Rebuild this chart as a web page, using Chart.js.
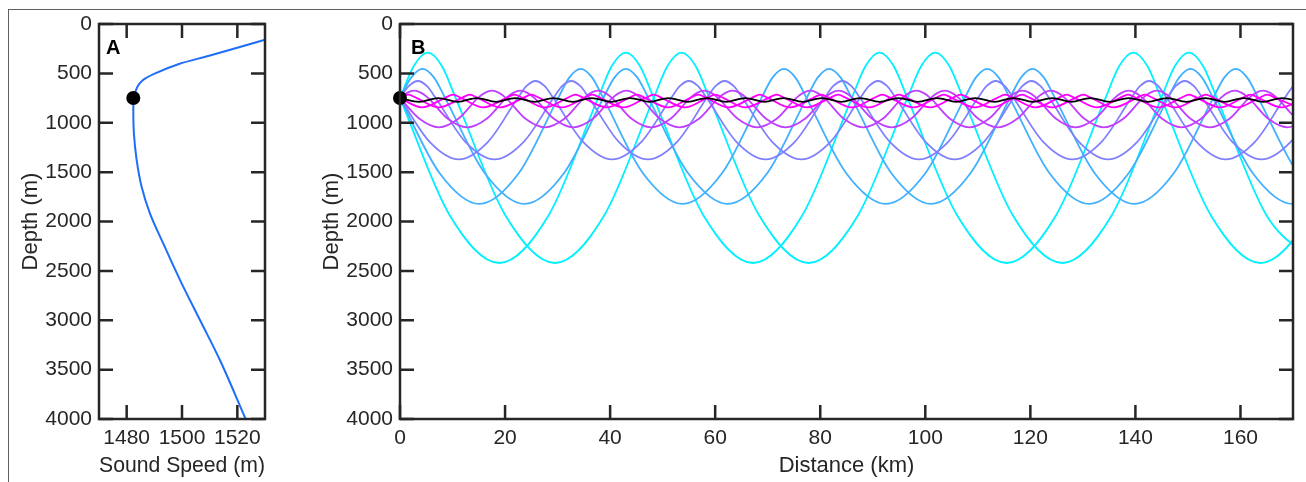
<!DOCTYPE html>
<html>
<head>
<meta charset="utf-8">
<script src="https://cdn.jsdelivr.net/npm/chart.js@4.4.1/dist/chart.umd.min.js"></script>
<style>
  html, body { margin: 0; padding: 0; background: #fff; }
  #wrap { position: relative; width: 1306px; height: 482px; overflow: hidden; }
  #frame { position: absolute; left: 8px; top: 9px; width: 1298px; height: 473px;
           border-top: 1px solid #606060; border-left: 1px solid #606060; }
  canvas { position: absolute; top: 0; }
  #panelA { left: 0; }
  #panelB { left: 300px; }
</style>
</head>
<body>
<div id="wrap">
  <div id="frame"></div>
  <canvas id="panelA" width="300" height="482"></canvas>
  <canvas id="panelB" width="1006" height="482"></canvas>
</div>
<script>
// tick labels
const depthTicks = [0, 500, 1000, 1500, 2000, 2500, 3000, 3500, 4000];
const speedTicks = [1480, 1500, 1520];
const distanceTicks = [0, 20, 40, 60, 80, 100, 120, 140, 160];

// panel A: sound speed vs depth (m)
const speedProfile = [
  [1530.0, 160], [1520.6, 236], [1509.8, 321], [1498.9, 405], [1489.9, 506],
  [1485.6, 574], [1483.8, 641], [1482.6, 750], [1482.4, 870], [1482.6, 1100],
  [1483.6, 1377], [1485.4, 1648], [1488.4, 1917], [1493.2, 2221], [1499.3, 2593],
  [1506.5, 2998], [1513.7, 3403], [1523.0, 4000]
];
const sourceA = [[1482.4, 750]];
const sourceB = [[0, 750]];

// panel B: ray paths, [distance km, depth m]
const rayCyanUp = [[0,750],[2.65,423],[5.3,290],[7.95,423],[10.6,750],[20.05,1936],[29.5,2420],[38.9,1936],[48.3,750],[50.95,423],[53.6,290],[56.25,423],[58.9,750],[68.35,1936],[77.8,2420],[87.2,1936],[96.6,750],[99.25,423],[101.9,290],[104.55,423],[107.2,750],[116.65,1936],[126.1,2420],[135.5,1936],[144.9,750],[147.55,423],[150.2,290],[152.85,423],[155.5,750],[164.95,1936],[174.4,2420]];
const rayCyanDown = [[0,750],[9.45,1936],[18.9,2420],[28.3,1936],[37.7,750],[40.35,423],[43.0,290],[45.65,423],[48.3,750],[57.75,1936],[67.2,2420],[76.6,1936],[86.0,750],[88.65,423],[91.3,290],[93.95,423],[96.6,750],[106.05,1936],[115.5,2420],[124.9,1936],[134.3,750],[136.95,423],[139.6,290],[142.25,423],[144.9,750],[154.35,1936],[163.8,2420],[173.2,1936],[182.6,750]];
const raySkyUp = [[0,750],[2.15,541],[4.3,455],[6.45,541],[8.6,750],[16.15,1511],[23.7,1822],[31.2,1511],[38.7,750],[40.85,541],[43.0,455],[45.15,541],[47.3,750],[54.85,1511],[62.4,1822],[69.9,1511],[77.4,750],[79.55,541],[81.7,455],[83.85,541],[86.0,750],[93.55,1511],[101.1,1822],[108.6,1511],[116.1,750],[118.25,541],[120.4,455],[122.55,541],[124.7,750],[132.25,1511],[139.8,1822],[147.3,1511],[154.8,750],[156.95,541],[159.1,455],[161.25,541],[163.4,750],[170.95,1511],[178.5,1822]];
const raySkyDown = [[0,750],[7.55,1511],[15.1,1822],[22.6,1511],[30.1,750],[32.25,541],[34.4,455],[36.55,541],[38.7,750],[46.25,1511],[53.8,1822],[61.3,1511],[68.8,750],[70.95,541],[73.1,455],[75.25,541],[77.4,750],[84.95,1511],[92.5,1822],[100.0,1511],[107.5,750],[109.65,541],[111.8,455],[113.95,541],[116.1,750],[123.65,1511],[131.2,1822],[138.7,1511],[146.2,750],[148.35,541],[150.5,455],[152.65,541],[154.8,750],[162.35,1511],[169.9,1822],[177.4,1511],[184.9,750]];
const rayBlueUp = [[0,750],[1.7,627],[3.4,577],[5.1,627],[6.8,750],[12.4,1190],[18.0,1370],[23.6,1190],[29.2,750],[30.9,627],[32.6,577],[34.3,627],[36.0,750],[41.6,1190],[47.2,1370],[52.8,1190],[58.4,750],[60.1,627],[61.8,577],[63.5,627],[65.2,750],[70.8,1190],[76.4,1370],[82.0,1190],[87.6,750],[89.3,627],[91.0,577],[92.7,627],[94.4,750],[100.0,1190],[105.6,1370],[111.2,1190],[116.8,750],[118.5,627],[120.2,577],[121.9,627],[123.6,750],[129.2,1190],[134.8,1370],[140.4,1190],[146.0,750],[147.7,627],[149.4,577],[151.1,627],[152.8,750],[158.4,1190],[164.0,1370],[169.6,1190],[175.2,750]];
const rayBlueDown = [[0,750],[5.6,1190],[11.2,1370],[16.8,1190],[22.4,750],[24.1,627],[25.8,577],[27.5,627],[29.2,750],[34.8,1190],[40.4,1370],[46.0,1190],[51.6,750],[53.3,627],[55.0,577],[56.7,627],[58.4,750],[64.0,1190],[69.6,1370],[75.2,1190],[80.8,750],[82.5,627],[84.2,577],[85.9,627],[87.6,750],[93.2,1190],[98.8,1370],[104.4,1190],[110.0,750],[111.7,627],[113.4,577],[115.1,627],[116.8,750],[122.4,1190],[128.0,1370],[133.6,1190],[139.2,750],[140.9,627],[142.6,577],[144.3,627],[146.0,750],[151.6,1190],[157.2,1370],[162.8,1190],[168.4,750],[170.1,627],[171.8,577]];
const rayPurpleUp = [[0,750],[1.35,697],[2.7,675],[4.05,697],[5.4,750],[9.1,960],[12.8,1046],[16.5,960],[20.2,750],[21.55,697],[22.9,675],[24.25,697],[25.6,750],[29.3,960],[33.0,1046],[36.7,960],[40.4,750],[41.75,697],[43.1,675],[44.45,697],[45.8,750],[49.5,960],[53.2,1046],[56.9,960],[60.6,750],[61.95,697],[63.3,675],[64.65,697],[66.0,750],[69.7,960],[73.4,1046],[77.1,960],[80.8,750],[82.15,697],[83.5,675],[84.85,697],[86.2,750],[89.9,960],[93.6,1046],[97.3,960],[101.0,750],[102.35,697],[103.7,675],[105.05,697],[106.4,750],[110.1,960],[113.8,1046],[117.5,960],[121.2,750],[122.55,697],[123.9,675],[125.25,697],[126.6,750],[130.3,960],[134.0,1046],[137.7,960],[141.4,750],[142.75,697],[144.1,675],[145.45,697],[146.8,750],[150.5,960],[154.2,1046],[157.9,960],[161.6,750],[162.95,697],[164.3,675],[165.65,697],[167.0,750],[170.7,960],[174.4,1046]];
const rayPurpleDown = [[0,750],[3.7,960],[7.4,1046],[11.1,960],[14.8,750],[16.15,697],[17.5,675],[18.85,697],[20.2,750],[23.9,960],[27.6,1046],[31.3,960],[35.0,750],[36.35,697],[37.7,675],[39.05,697],[40.4,750],[44.1,960],[47.8,1046],[51.5,960],[55.2,750],[56.55,697],[57.9,675],[59.25,697],[60.6,750],[64.3,960],[68.0,1046],[71.7,960],[75.4,750],[76.75,697],[78.1,675],[79.45,697],[80.8,750],[84.5,960],[88.2,1046],[91.9,960],[95.6,750],[96.95,697],[98.3,675],[99.65,697],[101.0,750],[104.7,960],[108.4,1046],[112.1,960],[115.8,750],[117.15,697],[118.5,675],[119.85,697],[121.2,750],[124.9,960],[128.6,1046],[132.3,960],[136.0,750],[137.35,697],[138.7,675],[140.05,697],[141.4,750],[145.1,960],[148.8,1046],[152.5,960],[156.2,750],[157.55,697],[158.9,675],[160.25,697],[161.6,750],[165.3,960],[169.0,1046],[172.7,960]];
const rayMagentaUp = [[0,750],[1.6,715],[3.2,750],[7.4,845],[11.7,750],[13.3,715],[14.9,750],[19.1,845],[23.4,750],[25.0,715],[26.6,750],[30.8,845],[35.0,750],[36.6,715],[38.2,750],[42.5,845],[46.7,750],[48.3,715],[49.9,750],[54.2,845],[58.4,750],[60.0,715],[61.6,750],[65.8,845],[70.1,750],[71.7,715],[73.3,750],[77.5,845],[81.8,750],[83.4,715],[85.0,750],[89.2,845],[93.4,750],[95.0,715],[96.6,750],[100.9,845],[105.1,750],[106.7,715],[108.3,750],[112.6,845],[116.8,750],[118.4,715],[120.0,750],[124.2,845],[128.5,750],[130.1,715],[131.7,750],[135.9,845],[140.2,750],[141.8,715],[143.4,750],[147.6,845],[151.8,750],[153.4,715],[155.0,750],[159.3,845],[163.5,750],[165.1,715],[166.7,750],[171.0,845]];
const rayMagentaDown = [[0,750],[4.2,845],[8.5,750],[10.1,715],[11.7,750],[15.9,845],[20.2,750],[21.8,715],[23.4,750],[27.6,845],[31.8,750],[33.4,715],[35.0,750],[39.3,845],[43.5,750],[45.1,715],[46.7,750],[51.0,845],[55.2,750],[56.8,715],[58.4,750],[62.6,845],[66.9,750],[68.5,715],[70.1,750],[74.3,845],[78.6,750],[80.2,715],[81.8,750],[86.0,845],[90.2,750],[91.8,715],[93.4,750],[97.7,845],[101.9,750],[103.5,715],[105.1,750],[109.4,845],[113.6,750],[115.2,715],[116.8,750],[121.0,845],[125.3,750],[126.9,715],[128.5,750],[132.7,845],[137.0,750],[138.6,715],[140.2,750],[144.4,845],[148.6,750],[150.2,715],[151.8,750],[156.1,845],[160.3,750],[161.9,715],[163.5,750],[167.8,845],[172.0,750]];
const rayAxial = [[0,750],[3.7,788],[7.3,750],[11.0,788],[14.6,750],[18.3,788],[21.9,750],[25.6,788],[29.2,750],[32.9,788],[36.5,750],[40.2,788],[43.8,750],[47.5,788],[51.1,750],[54.8,788],[58.4,750],[62.1,788],[65.7,750],[69.4,788],[73.0,750],[76.7,788],[80.3,750],[84.0,788],[87.6,750],[91.3,788],[94.9,750],[98.6,788],[102.2,750],[105.9,788],[109.5,750],[113.2,788],[116.8,750],[120.5,788],[124.1,750],[127.8,788],[131.4,750],[135.1,788],[138.7,750],[142.4,788],[146.0,750],[149.7,788],[153.3,750],[157.0,788],[160.6,750],[164.3,788],[167.9,750],[171.6,788]];

const ink = "#262626";
const tickLen = 14;

Chart.defaults.font.family = '"Liberation Sans", Arial, Helvetica, sans-serif';
Chart.defaults.color = ink;

// box round the axes, inward ticks on all four sides, panel letter
const framePlugin = {
  id: "frame",
  afterDatasetsDraw(chart, args, opts) {
    const ctx = chart.ctx;
    const a = chart.chartArea;
    const x = chart.scales.x;
    const y = chart.scales.y;
    ctx.save();
    ctx.strokeStyle = ink;
    ctx.lineWidth = 2.5;
    ctx.beginPath();
    opts.xTicks.forEach(v => {
      const px = x.getPixelForValue(v);
      ctx.moveTo(px, a.bottom); ctx.lineTo(px, a.bottom - tickLen);
      ctx.moveTo(px, a.top); ctx.lineTo(px, a.top + tickLen);
    });
    opts.yTicks.forEach(v => {
      const py = y.getPixelForValue(v);
      ctx.moveTo(a.left, py); ctx.lineTo(a.left + tickLen, py);
      ctx.moveTo(a.right, py); ctx.lineTo(a.right - tickLen, py);
    });
    ctx.stroke();
    ctx.strokeRect(a.left, a.top, a.right - a.left, a.bottom - a.top);
    ctx.fillStyle = "#000";
    ctx.font = 'bold 20px "Liberation Sans", Arial, sans-serif';
    ctx.textBaseline = "alphabetic";
    ctx.fillText(opts.letter, a.left + opts.letterDx, a.top + 30);
    ctx.restore();
  }
};

function fixTicks(values) {
  return scale => { scale.ticks = values.map(v => ({ value: v })); };
}

function rayDataset(data, color) {
  return {
    data: data,
    borderColor: color,
    borderWidth: 1.8,
    pointRadius: 0,
    cubicInterpolationMode: "monotone",
    capBezierPoints: false,
    fill: false
  };
}

function dotDataset(data) {
  return {
    data: data,
    showLine: false,
    pointRadius: 7,
    pointBackgroundColor: "#000",
    pointBorderColor: "#000",
    pointBorderWidth: 0,
    clip: false
  };
}

function axes(xMin, xMax, xTicks, xTitle, yWidth, yTitlePad) {
  return {
    x: {
      type: "linear", position: "bottom", min: xMin, max: xMax,
      afterBuildTicks: fixTicks(xTicks),
      afterFit: s => { s.height = 63; },
      grid: { display: false, drawTicks: false }, border: { display: false },
      ticks: { padding: 7, autoSkip: false, maxRotation: 0, font: { size: 21 }, callback: v => String(v) },
      title: { display: true, text: xTitle, font: { size: 22 }, padding: { top: 0, bottom: 3 } }
    },
    y: {
      type: "linear", position: "left", reverse: true, min: 0, max: 4000,
      afterBuildTicks: fixTicks(depthTicks),
      afterFit: s => { s.width = yWidth; },
      grid: { display: false, drawTicks: false }, border: { display: false },
      ticks: { padding: 7, autoSkip: false, font: { size: 21 }, callback: v => String(v) },
      title: { display: true, text: "Depth (m)", font: { size: 22 }, padding: { top: yTitlePad, bottom: 0 } }
    }
  };
}

new Chart(document.getElementById("panelA"), {
  type: "line",
  data: {
    datasets: [
      dotDataset(sourceA),
      {
        data: speedProfile,
        borderColor: "rgb(30,110,250)",
        borderWidth: 2,
        pointRadius: 0,
        cubicInterpolationMode: "monotone",
        capBezierPoints: false,
        fill: false
      }
    ]
  },
  options: {
    indexAxis: "y",
    responsive: false,
    animation: false,
    devicePixelRatio: 1,
    events: [],
    layout: { padding: { left: 0, top: 24, right: 35, bottom: 0 } },
    scales: axes(1470, 1530, speedTicks, "Sound Speed (m)", 99, 18),
    plugins: {
      legend: { display: false },
      tooltip: { enabled: false },
      frame: { letter: "A", letterDx: 7, xTicks: speedTicks, yTicks: depthTicks }
    }
  },
  plugins: [framePlugin]
});

new Chart(document.getElementById("panelB"), {
  type: "line",
  data: {
    datasets: [
      dotDataset(sourceB),
      rayDataset(rayAxial, "#000000"),
      rayDataset(rayMagentaDown, "rgb(255,0,255)"),
      rayDataset(rayMagentaUp, "rgb(255,0,255)"),
      rayDataset(rayPurpleDown, "rgb(191,64,255)"),
      rayDataset(rayPurpleUp, "rgb(191,64,255)"),
      rayDataset(rayBlueDown, "rgb(128,128,255)"),
      rayDataset(rayBlueUp, "rgb(128,128,255)"),
      rayDataset(raySkyDown, "rgb(64,176,255)"),
      rayDataset(raySkyUp, "rgb(64,176,255)"),
      rayDataset(rayCyanDown, "rgb(0,240,255)"),
      rayDataset(rayCyanUp, "rgb(0,240,255)")
    ]
  },
  options: {
    responsive: false,
    animation: false,
    devicePixelRatio: 1,
    events: [],
    layout: { padding: { left: 0, top: 24, right: 13, bottom: 0 } },
    scales: axes(0, 170, distanceTicks, "Distance (km)", 100, 19),
    plugins: {
      legend: { display: false },
      tooltip: { enabled: false },
      frame: { letter: "B", letterDx: 11, xTicks: distanceTicks, yTicks: depthTicks }
    }
  },
  plugins: [framePlugin]
});
</script>
</body>
</html>
